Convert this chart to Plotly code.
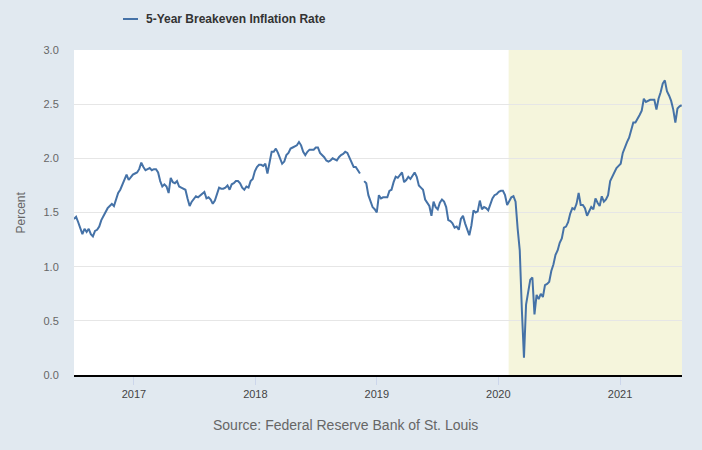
import pandas as pd
import plotly.graph_objects as go

# ---- data ----
series_name = "5-Year Breakeven Inflation Rate"
start_date = "2016-07-05"
end_date = "2021-07-05"
values = [
    1.44, 1.46, 1.41, 1.35, 1.30, 1.35, 1.32, 1.35, 1.30, 1.28,
    1.33, 1.34, 1.37, 1.43, 1.47, 1.50, 1.54, 1.56, 1.58, 1.56,
    1.62, 1.68, 1.71, 1.76, 1.80, 1.85, 1.80, 1.83, 1.85, 1.86,
    1.87, 1.90, 1.96, 1.92, 1.89, 1.90, 1.91, 1.89, 1.90, 1.90,
    1.87, 1.79, 1.74, 1.76, 1.74, 1.68, 1.82, 1.78, 1.77, 1.79,
    1.74, 1.73, 1.72, 1.71, 1.63, 1.56, 1.60, 1.63, 1.65, 1.64,
    1.66, 1.67, 1.69, 1.63, 1.64, 1.62, 1.58, 1.61, 1.68, 1.73,
    1.72, 1.72, 1.73, 1.75, 1.71, 1.76, 1.77, 1.79, 1.79, 1.77,
    1.73, 1.71, 1.74, 1.73, 1.79, 1.81, 1.88, 1.92, 1.94, 1.94,
    1.93, 1.95, 1.86, 1.98, 2.06, 2.06, 2.09, 2.05, 1.99, 1.95,
    1.97, 2.03, 2.05, 2.09, 2.10, 2.11, 2.12, 2.15, 2.12, 2.06,
    2.03, 2.06, 2.08, 2.08, 2.08, 2.10, 2.10, 2.05, 2.03, 2.01,
    1.98, 1.97, 1.98, 2.00, 1.99, 1.98, 2.01, 2.03, 2.04, 2.06,
    2.05, 2.01, 1.96, 1.92, 1.92, 1.89, 1.86, None, 1.79, 1.77,
    1.66, 1.60, 1.55, 1.53, 1.50, 1.66, 1.63, 1.64, 1.64, 1.64,
    1.70, 1.71, 1.78, 1.83, 1.82, 1.85, 1.87, 1.78, 1.80, 1.83,
    1.81, 1.84, 1.87, 1.83, 1.75, 1.73, 1.71, 1.62, 1.59, 1.56,
    1.47, 1.60, 1.55, 1.53, 1.59, 1.62, 1.60, 1.55, 1.43, 1.42,
    1.40, 1.36, 1.37, 1.34, 1.44, 1.47, 1.40, 1.35, 1.29, 1.38,
    1.52, 1.50, 1.51, 1.61, 1.53, 1.55, 1.54, 1.52, 1.57, 1.63,
    1.66, 1.67, 1.69, 1.70, 1.70, 1.66, 1.57, 1.61, 1.64, 1.65,
    1.60, 1.35, 1.15, 0.60, 0.16, 0.65, 0.76, 0.88, 0.90, 0.56,
    0.74, 0.70, 0.75, 0.72, 0.83, 0.84, 0.86, 0.96, 1.02, 1.11,
    1.15, 1.22, 1.26, 1.36, 1.37, 1.41, 1.49, 1.54, 1.53, 1.58,
    1.68, 1.57, 1.57, 1.54, 1.47, 1.51, 1.55, 1.53, 1.63, 1.59,
    1.56, 1.65, 1.60, 1.62, 1.66, 1.79, 1.83, 1.86, 1.91, 1.93,
    1.95, 2.05, 2.11, 2.15, 2.19, 2.27, 2.33, 2.33, 2.36, 2.40,
    2.44, 2.55, 2.52, 2.53, 2.54, 2.54, 2.54, 2.45, 2.55, 2.61,
    2.69, 2.72, 2.62, 2.58, 2.53, 2.45, 2.33, 2.46, 2.48, 2.49,
]
dates = pd.date_range(start_date, end_date, periods=len(values))

x_range = ["2016-07-05", "2021-07-06"]
year_ticks = ["2017-01-01", "2018-01-01", "2019-01-01", "2020-01-01", "2021-01-01"]
year_labels = ["2017", "2018", "2019", "2020", "2021"]
shade_start = "2020-02-01"
shade_end = "2021-07-06"
y_ticks = [0.0, 0.5, 1.0, 1.5, 2.0, 2.5, 3.0]
y_title = "Percent"
source_text = "Source: Federal Reserve Bank of St. Louis"

LINE = "#4572a7"
FONT = "Arial, Liberation Sans, sans-serif"

fig = go.Figure()
fig.add_trace(go.Scatter(
    x=dates, y=values, mode="lines", name=series_name,
    line=dict(color=LINE, width=2), connectgaps=False, showlegend=False,
))

fig.update_layout(
    width=702, height=450,
    margin=dict(l=74, r=20, t=50, b=75),
    paper_bgcolor="#e1e9f0", plot_bgcolor="#ffffff",
    font=dict(family=FONT, size=11, color="#666666"),
    shapes=[
        dict(type="rect", xref="x", yref="paper", x0=shade_start, x1=shade_end,
             y0=0, y1=1, fillcolor="#f5f5dc", line=dict(width=0), layer="below"),
        dict(type="line", xref="paper", yref="paper", x0=0.0806, x1=0.1053,
             y0=1.0954, y1=1.0954, line=dict(color=LINE, width=2)),
    ],
    annotations=[
        dict(text="<b>" + series_name + "</b>", xref="paper", yref="paper",
             x=0.1151, y=1.0954, xanchor="left", yanchor="middle", showarrow=False,
             font=dict(family=FONT, size=12, color="#333333")),
        dict(text=source_text, xref="paper", yref="paper", x=0.4465, y=-0.154,
             xanchor="center", yanchor="middle", showarrow=False,
             font=dict(family=FONT, size=14, color="#666666")),
        dict(text=y_title, xref="paper", yref="paper", x=-0.0888, y=0.5,
             xanchor="center", yanchor="middle", textangle=-90, showarrow=False,
             font=dict(family=FONT, size=12, color="#666666")),
    ],
)

fig.update_xaxes(
    type="date", range=x_range, tickvals=year_ticks, ticktext=year_labels,
    showgrid=False, zeroline=False, showline=True, linecolor="#000000", linewidth=2,
    ticks="outside", ticklen=8, tickcolor="#ccd6eb", tickwidth=1,
    tickfont=dict(family=FONT, size=11, color="#444444"),
)
fig.update_yaxes(
    range=[0, 3], tickvals=y_ticks, tickformat=".1f",
    showgrid=True, gridcolor="#e6e6e6", gridwidth=1, zeroline=False, showline=False,
    ticks="outside", ticklen=12, tickcolor="rgba(0,0,0,0)",
    tickfont=dict(family=FONT, size=11, color="#666666"),
)

fig.write_html(
    "out.html",
    config={"displayModeBar": False},
    post_script="document.body.style.margin='0';document.body.style.padding='0';",
)
